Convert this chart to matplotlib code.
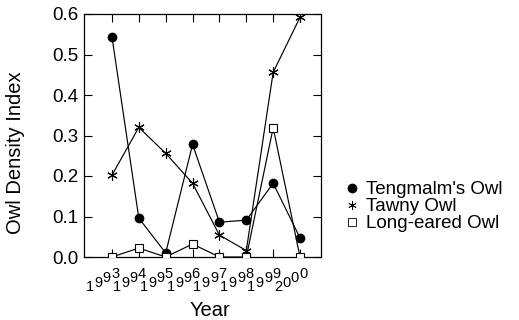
import matplotlib
matplotlib.use("Agg")
import matplotlib.pyplot as plt
from matplotlib.lines import Line2D

plt.rcParams['font.family'] = ['Liberation Sans', 'DejaVu Sans']

years = [1993, 1994, 1995, 1996, 1997, 1998, 1999, 2000]
tengmalm = [0.544, 0.096, 0.010, 0.278, 0.086, 0.091, 0.182, 0.047]
tawny = [0.202, 0.320, 0.256, 0.182, 0.054, 0.016, 0.456, 0.592]
long_eared = [0.0, 0.022, 0.0, 0.032, 0.0, 0.0, 0.319, 0.0]
labels = ["Tengmalm's Owl", "Tawny Owl", "Long-eared Owl"]

fig = plt.figure(figsize=(5.19, 3.2), dpi=100)
ax = fig.add_axes([84/519, 1-257/320, 237/519, 243/320])

ax.plot(years, tengmalm, color='black', lw=0.85, marker='o', ms=6,
        mfc='black', mec='black', zorder=3)
ax.plot(years, tawny, color='black', lw=0.85, marker=(6, 2, 0), ms=7.5,
        mew=0.8, zorder=3)
ax.plot(years, long_eared, color='black', lw=0.85, marker='s', ms=5.5,
        mfc='white', mec='black', mew=0.8, zorder=3)

ax.set_xlim(1991.96, 2000.78)
ax.set_ylim(0, 0.6)
ax.set_xticks(years)
ax.set_xticklabels([])
ax.set_yticks([0.0, 0.1, 0.2, 0.3, 0.4, 0.5, 0.6])
ax.set_yticklabels(['%.1f' % v for v in ax.get_yticks()])
ax.tick_params(direction='in', length=6, width=0.8, top=True, right=True,
               labelsize=13.5, pad=4)
for s in ax.spines.values():
    s.set_linewidth(0.9)

# stair-stepped year labels, one glyph at a time
for y in years:
    for i, ch in enumerate(str(y)):
        ax.annotate(ch, xy=(y, 0), xycoords=('data', 'axes fraction'),
                    xytext=(-22 + 8.4 * i, -34 + 4.4 * i),
                    textcoords='offset pixels', ha='center', va='baseline',
                    fontsize=10.5, annotation_clip=False)

ax.set_xlabel('Year', fontsize=14.5)
ax.xaxis.set_label_coords(0.53, -0.18)
ax.set_ylabel('Owl Density Index', fontsize=14.5)
ax.yaxis.set_label_coords(-0.25, 0.43)

handles = [
    Line2D([], [], ls='none', marker='o', ms=6, color='black'),
    Line2D([], [], ls='none', marker=(6, 2, 0), ms=6, color='black', mew=0.6),
    Line2D([], [], ls='none', marker='s', ms=6, mfc='white', mec='black', mew=0.6),
]
fig.legend(handles, labels, loc='upper left', bbox_to_anchor=(344/519, 1-181/320),
           frameon=False, fontsize=13.5, handlelength=0.8, handletextpad=0.4,
           labelspacing=0.0, borderpad=0, borderaxespad=0)

fig.savefig('out.png', dpi=100, facecolor='white')
